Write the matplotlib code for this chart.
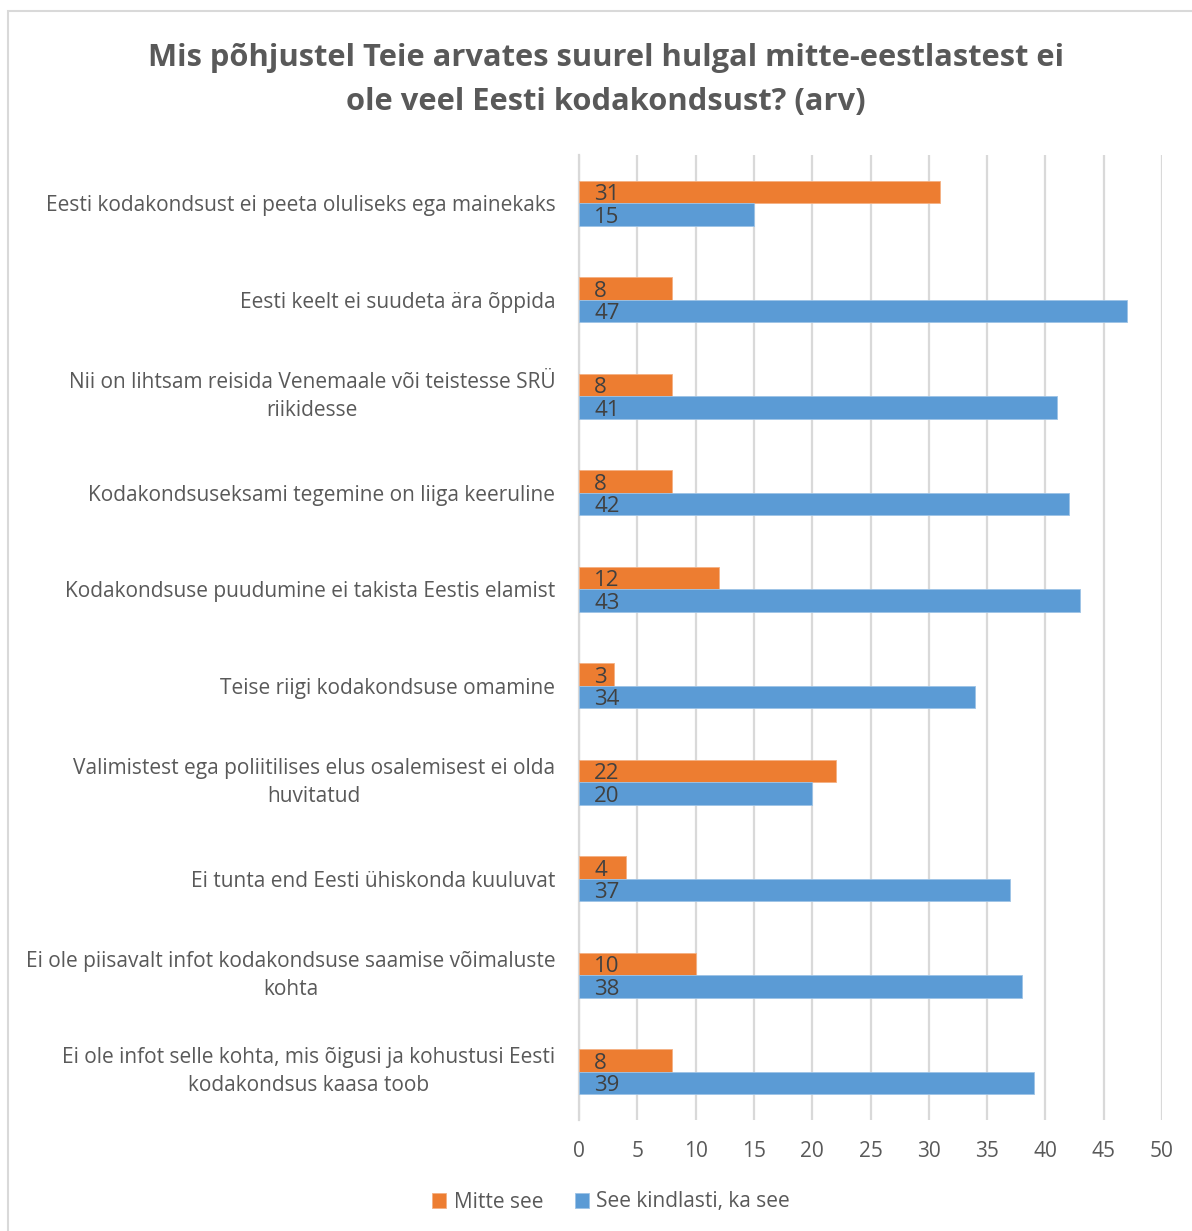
import matplotlib
matplotlib.use("Agg")
import matplotlib.pyplot as plt
import numpy as np
from matplotlib.patches import Rectangle

plt.rcParams['font.family'] = ['Open Sans', 'DejaVu Sans']

categories = [
    "Eesti kodakondsust ei peeta oluliseks ega mainekaks",
    "Eesti keelt ei suudeta ära õppida",
    "Nii on lihtsam reisida Venemaale või teistesse SRÜ\nriikidesse",
    "Kodakondsuseksami tegemine on liiga keeruline",
    "Kodakondsuse puudumine ei takista Eestis elamist",
    "Teise riigi kodakondsuse omamine",
    "Valimistest ega poliitilises elus osalemisest ei olda\nhuvitatud",
    "Ei tunta end Eesti ühiskonda kuuluvat",
    "Ei ole piisavalt infot kodakondsuse saamise võimaluste\nkohta",
    "Ei ole infot selle kohta, mis õigusi ja kohustusi Eesti\nkodakondsus kaasa toob",
]
mitte_see = [31, 8, 8, 8, 12, 3, 22, 4, 10, 8]
kindlasti = [15, 47, 41, 42, 43, 34, 20, 37, 38, 39]
series_names = ["Mitte see", "See kindlasti, ka see"]
x_ticks = [0, 5, 10, 15, 20, 25, 30, 35, 40, 45, 50]
title = "Mis põhjustel Teie arvates suurel hulgal mitte-eestlastest ei\nole veel Eesti kodakondsust? (arv)"

ORANGE = "#ED7D31"
BLUE = "#5B9BD5"
TXT = "#595959"

W, H = 1192, 1231
fig = plt.figure(figsize=(W/100, H/100), dpi=100)
fig.patch.set_facecolor("white")

# outer border
fig.add_artist(Rectangle((8/W, -0.05), 1.1, 1 - 11/H + 0.05, transform=fig.transFigure,
                         fill=False, edgecolor="#d9d9d9", linewidth=1.5))

ax = fig.add_axes([579/W, 1 - 1120/H, (1162-579)/W, (1120-155)/H])

n = len(categories)
y = np.arange(n)
bh = 0.235
b1 = ax.barh(y - bh/2, mitte_see, height=bh, color=ORANGE, edgecolor="#f4b183", linewidth=0.6, label=series_names[0], zorder=3)
b2 = ax.barh(y + bh/2, kindlasti, height=bh, color=BLUE, edgecolor="#9dc3e6", linewidth=0.6, label=series_names[1], zorder=3)

for bars, vals in ((b1, mitte_see), (b2, kindlasti)):
    for rect, v in zip(bars, vals):
        ax.annotate(str(v), xy=(0, rect.get_y() + rect.get_height()/2), xytext=(11, -2),
                    textcoords="offset points", ha="left", va="center",
                    fontsize=16, color="#404040", zorder=4)

ax.set_xlim(0, 50)
ax.set_ylim(n - 0.5, -0.5)
ax.set_xticks(x_ticks)
ax.set_xticklabels([str(t) for t in x_ticks])
ax.set_yticks(y)
ax.set_yticklabels(categories, multialignment="center", linespacing=1.45)
for lbl in ax.get_yticklabels():
    if "\n" in lbl.get_text():
        lbl.set_verticalalignment("center")
ax.tick_params(axis="both", length=0, labelsize=15, colors=TXT)
ax.tick_params(axis="x", pad=15)
ax.tick_params(axis="y", pad=17)
ax.grid(axis="x", color="#d9d9d9", linewidth=1.6, zorder=0)
for s in ["top", "right", "bottom"]:
    ax.spines[s].set_visible(False)
ax.spines["left"].set_color("#d9d9d9")
ax.spines["left"].set_linewidth(1.6)

fig.text(606/W, 1 - 80/H, title, ha="center", va="center", fontsize=22.2,
         fontweight="bold", color=TXT, linespacing=1.6)

fig.legend(handles=[b1, b2], labels=series_names, loc="center",
           bbox_to_anchor=(611/W, 1 - 1202/H), ncol=2, frameon=False,
           fontsize=15, labelcolor=TXT, handlelength=0.7, handleheight=0.7,
           handletextpad=0.35, columnspacing=1.5)

fig.savefig("out.png", dpi=100, facecolor="white")
